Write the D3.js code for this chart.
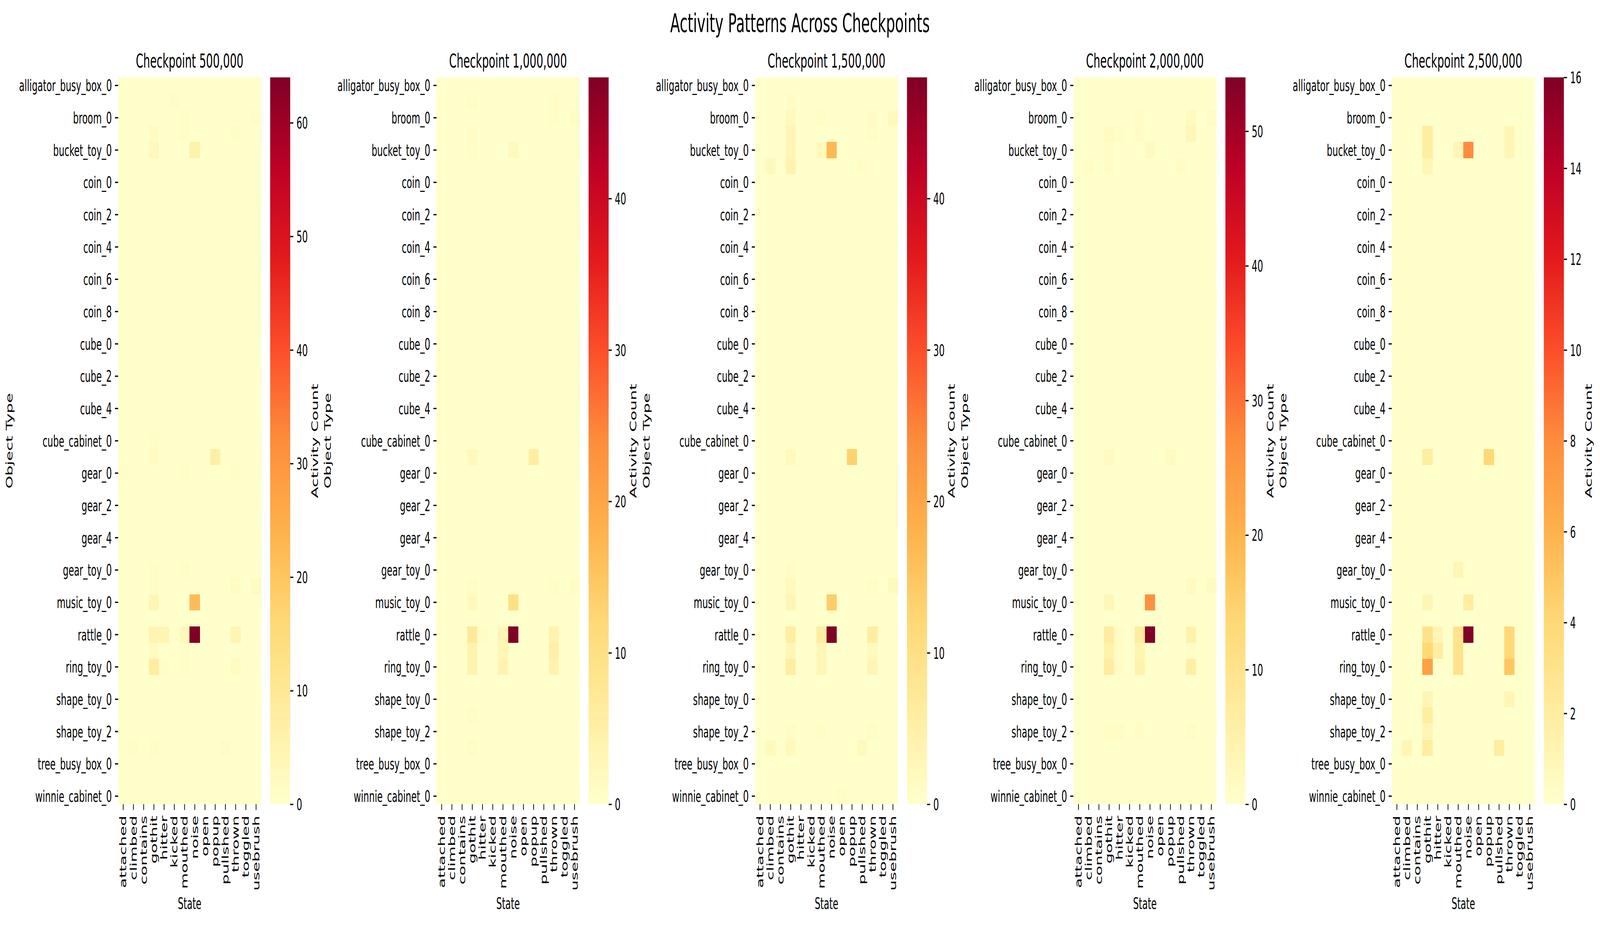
<!DOCTYPE html>
<html>
<head>
<meta charset="utf-8">
<script src="https://cdn.jsdelivr.net/npm/d3@7"></script>
<style>
  html, body { margin: 0; padding: 0; background: #fff; overflow: hidden; }
  #chart { display: block; width: 100vw; height: 100vh; }
  text { font-family: "DejaVu Sans", sans-serif; fill: #000; }
</style>
</head>
<body>
<svg id="chart"></svg>
<script>
// ---- data ----
const suptitle = "Activity Patterns Across Checkpoints";
const checkpoints = [500000, 1000000, 1500000, 2000000, 2500000];

const states = ["attached", "climbed", "contains", "gothit", "hitter", "kicked", "mouthed",
  "noise", "open", "popup", "pullshed", "thrown", "toggled", "usebrush"];

// only every other row is labelled in the picture; the unlabelled names are guesses
const objectTypes = ["alligator_busy_box_0", "ball_0", "broom_0", "bucket_0", "bucket_toy_0",
  "car_toy_0", "coin_0", "coin_1", "coin_2", "coin_3", "coin_4", "coin_5", "coin_6", "coin_7",
  "coin_8", "coin_9", "cube_0", "cube_1", "cube_2", "cube_3", "cube_4", "cube_5",
  "cube_cabinet_0", "drum_0", "gear_0", "gear_1", "gear_2", "gear_3", "gear_4", "gear_5",
  "gear_toy_0", "hammer_toy_0", "music_toy_0", "piano_toy_0", "rattle_0", "rattle_1",
  "ring_toy_0", "ring_toy_1", "shape_toy_0", "shape_toy_1", "shape_toy_2", "stacking_cups_0",
  "tree_busy_box_0", "tree_busy_box_1", "winnie_cabinet_0"];

// non-zero cells: [object, state, count]
const counts500k = [
  ["ball_0", "kicked", 1],
  ["broom_0", "mouthed", 1], ["broom_0", "usebrush", 1],
  ["bucket_0", "gothit", 2], ["bucket_0", "mouthed", 1], ["bucket_0", "thrown", 1],
  ["bucket_toy_0", "gothit", 3], ["bucket_toy_0", "noise", 6],
  ["cube_cabinet_0", "gothit", 1],
  ["drum_0", "gothit", 2], ["drum_0", "popup", 7],
  ["gear_0", "attached", 1], ["gear_0", "mouthed", 1], ["gear_0", "thrown", 1],
  ["gear_toy_0", "gothit", 1], ["gear_toy_0", "mouthed", 1],
  ["hammer_toy_0", "gothit", 1], ["hammer_toy_0", "thrown", 2], ["hammer_toy_0", "usebrush", 2],
  ["music_toy_0", "gothit", 4], ["music_toy_0", "noise", 22],
  ["rattle_0", "gothit", 5], ["rattle_0", "hitter", 5], ["rattle_0", "mouthed", 3],
  ["rattle_0", "noise", 64], ["rattle_0", "thrown", 5],
  ["rattle_1", "gothit", 2], ["rattle_1", "mouthed", 1],
  ["ring_toy_0", "gothit", 8], ["ring_toy_0", "hitter", 1], ["ring_toy_0", "mouthed", 1],
  ["ring_toy_0", "thrown", 2],
  ["stacking_cups_0", "climbed", 1], ["stacking_cups_0", "gothit", 1], ["stacking_cups_0", "pullshed", 1]
];
const counts1000k = [
  ["ball_0", "gothit", 1], ["ball_0", "thrown", 1],
  ["broom_0", "thrown", 1], ["broom_0", "usebrush", 1],
  ["bucket_0", "gothit", 1],
  ["bucket_toy_0", "gothit", 1], ["bucket_toy_0", "noise", 2],
  ["drum_0", "gothit", 2], ["drum_0", "popup", 6],
  ["hammer_toy_0", "gothit", 1], ["hammer_toy_0", "thrown", 1], ["hammer_toy_0", "usebrush", 1],
  ["music_toy_0", "gothit", 2], ["music_toy_0", "noise", 10],
  ["rattle_0", "gothit", 7], ["rattle_0", "hitter", 1], ["rattle_0", "mouthed", 3],
  ["rattle_0", "noise", 48], ["rattle_0", "thrown", 4],
  ["rattle_1", "gothit", 4], ["rattle_1", "mouthed", 3], ["rattle_1", "thrown", 5],
  ["ring_toy_0", "gothit", 4], ["ring_toy_0", "mouthed", 4], ["ring_toy_0", "thrown", 4],
  ["shape_toy_1", "gothit", 1],
  ["stacking_cups_0", "gothit", 1]
];
const counts1500k = [
  ["ball_0", "gothit", 1],
  ["broom_0", "gothit", 2], ["broom_0", "mouthed", 1], ["broom_0", "thrown", 1], ["broom_0", "usebrush", 2],
  ["bucket_0", "gothit", 3], ["bucket_0", "thrown", 1],
  ["bucket_toy_0", "gothit", 3], ["bucket_toy_0", "mouthed", 2], ["bucket_toy_0", "noise", 17],
  ["car_toy_0", "climbed", 2], ["car_toy_0", "gothit", 4], ["car_toy_0", "pullshed", 1],
  ["drum_0", "gothit", 2], ["drum_0", "popup", 13],
  ["gear_toy_0", "gothit", 1],
  ["hammer_toy_0", "gothit", 2], ["hammer_toy_0", "thrown", 1], ["hammer_toy_0", "usebrush", 2],
  ["music_toy_0", "gothit", 3], ["music_toy_0", "noise", 14],
  ["rattle_0", "gothit", 6], ["rattle_0", "mouthed", 6], ["rattle_0", "noise", 48], ["rattle_0", "thrown", 6],
  ["rattle_1", "gothit", 3], ["rattle_1", "mouthed", 3], ["rattle_1", "thrown", 2],
  ["ring_toy_0", "gothit", 6], ["ring_toy_0", "mouthed", 3], ["ring_toy_0", "thrown", 3],
  ["shape_toy_2", "gothit", 1], ["shape_toy_2", "mouthed", 1], ["shape_toy_2", "thrown", 1],
  ["stacking_cups_0", "climbed", 2], ["stacking_cups_0", "gothit", 2], ["stacking_cups_0", "pullshed", 2],
  ["winnie_cabinet_0", "open", 1]
];
const counts2000k = [
  ["broom_0", "mouthed", 1], ["broom_0", "thrown", 2], ["broom_0", "usebrush", 1],
  ["bucket_0", "gothit", 2], ["bucket_0", "hitter", 1], ["bucket_0", "mouthed", 1], ["bucket_0", "thrown", 3],
  ["bucket_toy_0", "gothit", 1], ["bucket_toy_0", "noise", 2],
  ["car_toy_0", "climbed", 1], ["car_toy_0", "gothit", 1], ["car_toy_0", "pullshed", 1],
  ["drum_0", "gothit", 2], ["drum_0", "popup", 2],
  ["hammer_toy_0", "thrown", 2], ["hammer_toy_0", "usebrush", 2],
  ["music_toy_0", "gothit", 3], ["music_toy_0", "noise", 26],
  ["rattle_0", "gothit", 7], ["rattle_0", "hitter", 1], ["rattle_0", "mouthed", 7],
  ["rattle_0", "noise", 54], ["rattle_0", "thrown", 5],
  ["rattle_1", "gothit", 5], ["rattle_1", "hitter", 1], ["rattle_1", "mouthed", 4], ["rattle_1", "thrown", 1],
  ["ring_toy_0", "gothit", 7], ["ring_toy_0", "hitter", 1], ["ring_toy_0", "mouthed", 5], ["ring_toy_0", "thrown", 6],
  ["shape_toy_2", "gothit", 1], ["shape_toy_2", "hitter", 1], ["shape_toy_2", "mouthed", 1], ["shape_toy_2", "thrown", 1]
];
const counts2500k = [
  ["bucket_0", "gothit", 2], ["bucket_0", "thrown", 1],
  ["bucket_toy_0", "gothit", 2], ["bucket_toy_0", "mouthed", 1], ["bucket_toy_0", "noise", 8],
  ["bucket_toy_0", "thrown", 1],
  ["car_toy_0", "gothit", 1],
  ["drum_0", "gothit", 2], ["drum_0", "popup", 4],
  ["gear_toy_0", "mouthed", 1],
  ["music_toy_0", "gothit", 1], ["music_toy_0", "noise", 2],
  ["rattle_0", "gothit", 3], ["rattle_0", "hitter", 1], ["rattle_0", "mouthed", 3],
  ["rattle_0", "noise", 16], ["rattle_0", "thrown", 4],
  ["rattle_1", "gothit", 4], ["rattle_1", "hitter", 2], ["rattle_1", "mouthed", 3], ["rattle_1", "thrown", 4],
  ["ring_toy_0", "gothit", 7], ["ring_toy_0", "mouthed", 3], ["ring_toy_0", "thrown", 5],
  ["shape_toy_0", "gothit", 1], ["shape_toy_0", "thrown", 1],
  ["shape_toy_1", "gothit", 2],
  ["shape_toy_2", "gothit", 1],
  ["stacking_cups_0", "climbed", 1], ["stacking_cups_0", "gothit", 2], ["stacking_cups_0", "pullshed", 2]
];

// colour bar tick labels per checkpoint
const cbarTicks500k = [0, 10, 20, 30, 40, 50, 60];
const cbarTicks1000k = [0, 10, 20, 30, 40];
const cbarTicks1500k = [0, 10, 20, 30, 40];
const cbarTicks2000k = [0, 10, 20, 30, 40, 50];
const cbarTicks2500k = [0, 2, 4, 6, 8, 10, 12, 14, 16];

const panels = [
  { checkpoint: checkpoints[0], counts: counts500k, ticks: cbarTicks500k },
  { checkpoint: checkpoints[1], counts: counts1000k, ticks: cbarTicks1000k },
  { checkpoint: checkpoints[2], counts: counts1500k, ticks: cbarTicks1500k },
  { checkpoint: checkpoints[3], counts: counts2000k, ticks: cbarTicks2000k },
  { checkpoint: checkpoints[4], counts: counts2500k, ticks: cbarTicks2500k }
];

// matplotlib YlOrRd control colours
const ylorrd = ["#ffffcc", "#ffeda0", "#fed976", "#feb24c", "#fd8d3c",
  "#fc4e2a", "#e31a1c", "#bd0026", "#800026"];

// ---- layout ----
const W = 7492, H = 2367;
const fs = 41.67;            // 10pt at 300 dpi
const tickLen = 14.6, tickPad = 14.6, tickW = 3.33;
const mapTop = 198, mapBottom = 2058;
const mapW = 670, firstLeft = 553, step = 1491;
const cbarGap = 42, cbarW = 94;

// draw in a fixed 7492x2367 space, stretched to fill the whole window
const svg = d3.select("#chart")
  .attr("viewBox", `0 0 ${W} ${H}`)
  .attr("preserveAspectRatio", "none");

svg.append("rect").attr("width", W).attr("height", H).attr("fill", "#fff");

const grad = svg.append("defs").append("linearGradient")
  .attr("id", "ylorrd")
  .attr("x1", 0).attr("y1", 1).attr("x2", 0).attr("y2", 0);
ylorrd.forEach((c, k) => grad.append("stop")
  .attr("offset", k / (ylorrd.length - 1))
  .attr("stop-color", c));

svg.append("text")
  .attr("x", W / 2).attr("y", 82)
  .attr("text-anchor", "middle")
  .attr("font-size", 66.7)
  .text(suptitle);

function styleAxis(g) {
  g.select(".domain").remove();
  g.attr("font-family", null).attr("font-size", null);
  g.selectAll(".tick line").attr("stroke", "#000").attr("stroke-width", tickW);
  g.selectAll(".tick text").attr("font-size", fs).attr("fill", "#000");
}

panels.forEach((p, i) => {
  const left = firstLeft + i * step;
  const g = svg.append("g").attr("transform", `translate(${left},0)`);

  const x = d3.scaleBand().domain(states).range([0, mapW]);
  const y = d3.scaleBand().domain(objectTypes).range([mapTop, mapBottom]);

  const lookup = new Map(p.counts.map(d => [d[0] + "|" + d[1], d[2]]));
  const cells = d3.cross(objectTypes, states)
    .map(([o, s]) => ({ o, s, v: lookup.get(o + "|" + s) || 0 }));
  const vmax = d3.max(cells, d => d.v);
  const color = d3.scaleLinear()
    .domain(ylorrd.map((c, k) => vmax * k / (ylorrd.length - 1)))
    .range(ylorrd)
    .interpolate(d3.interpolateRgb);

  g.append("g").selectAll("rect")
    .data(cells)
    .join("rect")
    .attr("x", d => x(d.s))
    .attr("y", d => y(d.o))
    .attr("width", x.bandwidth() + 0.5)
    .attr("height", y.bandwidth() + 0.5)
    .attr("fill", d => color(d.v))
    .attr("shape-rendering", "crispEdges");

  // y axis: seaborn labels every other row
  g.append("g")
    .call(d3.axisLeft(y)
      .tickValues(objectTypes.filter((d, k) => k % 2 === 0))
      .tickSize(tickLen).tickPadding(tickPad))
    .call(styleAxis)
    .selectAll(".tick text").attr("dy", "0.35em");

  // x axis with vertical labels
  g.append("g")
    .attr("transform", `translate(0,${mapBottom})`)
    .call(d3.axisBottom(x).tickSize(tickLen).tickPadding(tickPad))
    .call(styleAxis)
    .selectAll(".tick text")
    .attr("transform", "rotate(-90)")
    .attr("text-anchor", "end")
    .attr("x", -(tickLen + tickPad))
    .attr("y", 0)
    .attr("dy", "0.35em");

  g.append("text")
    .attr("x", mapW / 2).attr("y", 173)
    .attr("text-anchor", "middle")
    .attr("font-size", 50)
    .text("Checkpoint " + d3.format(",")(p.checkpoint));

  g.append("text")
    .attr("x", mapW / 2).attr("y", 2326)
    .attr("text-anchor", "middle")
    .attr("font-size", fs)
    .text("State");

  g.append("text")
    .attr("transform", `translate(-494,${(mapTop + mapBottom) / 2}) rotate(-90)`)
    .attr("text-anchor", "middle")
    .attr("font-size", fs)
    .text("Object Type");

  // colour bar
  const cx = mapW + cbarGap;
  const cy = d3.scaleLinear().domain([0, vmax]).range([mapBottom, mapTop]);
  g.append("rect")
    .attr("x", cx).attr("y", mapTop)
    .attr("width", cbarW).attr("height", mapBottom - mapTop)
    .attr("fill", "url(#ylorrd)");

  g.append("g")
    .attr("transform", `translate(${cx + cbarW},0)`)
    .call(d3.axisRight(cy).tickValues(p.ticks).tickFormat(d3.format("d"))
      .tickSize(tickLen).tickPadding(tickPad))
    .call(styleAxis)
    .selectAll(".tick text").attr("dy", "0.35em");

  g.append("text")
    .attr("transform", `translate(${cx + cbarW + 130},${(mapTop + mapBottom) / 2}) rotate(-90)`)
    .attr("text-anchor", "middle")
    .attr("font-size", fs)
    .text("Activity Count");
});
</script>
</body>
</html>
